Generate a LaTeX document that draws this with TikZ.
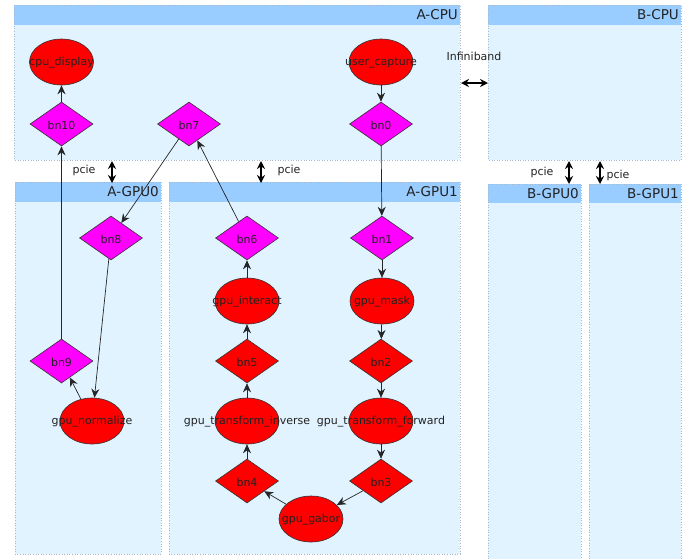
\documentclass[tikz,border=0pt]{standalone}
\usepackage{fontspec}
\setmainfont{DejaVu Sans}
\usetikzlibrary{shapes.geometric,arrows.meta}
\definecolor{boxfill}{HTML}{E1F3FF}
\definecolor{headfill}{HTML}{99CCFF}
\definecolor{boxline}{HTML}{A9B9CC}
\definecolor{mag}{HTML}{FF00FF}
\definecolor{txt}{HTML}{222222}
\tikzset{
  proc/.style={ellipse, draw=black!80, fill=red, minimum width=64pt, minimum height=46pt, inner sep=0pt, line width=0.6pt,
    label={[lbl, yshift=-1pt]center:#1}},
  gate/.style={diamond, draw=black!80, fill=mag, minimum width=63pt, minimum height=44pt, inner sep=0pt, line width=0.6pt,
    label={[lbl, yshift=-1pt]center:#1}},
  gatered/.style={gate=#1, fill=red},
  flow/.style={-{Stealth[length=9pt,width=8pt]}, line width=0.7pt, black!85},
  link/.style={{Stealth[length=8pt,width=8pt]}-{Stealth[length=8pt,width=8pt]}, line width=1.5pt, black},
  lbl/.style={font=\fontsize{11}{13}\selectfont, text=txt, inner sep=0pt},
  boxtitle/.style={font=\fontsize{13.5}{16}\selectfont, text=txt, anchor=east, inner sep=0pt},
  boxbody/.style={fill=boxfill},
  boxhead/.style={fill=headfill},
  boxedge/.style={draw=boxline, dotted, line width=0.6pt},
}
\newcommand\clusterbox[6]{%
  \fill[boxbody] (#1,#2) rectangle (#3,#4);
  \fill[boxhead] (#1,#2) rectangle (#3,#2+#5);
  \draw[boxedge] (#1,#2) rectangle (#3,#4);
  \node[boxtitle] at (#3-2,#2+#5/2) {#6};
}
\begin{document}
\begin{tikzpicture}[x=1pt,y=-1pt]
\useasboundingbox (0,0) rectangle (699,558);
\clip (0,0) rectangle (699,558);
\fill[white] (0,0) rectangle (699,558);

\clusterbox{14}{5}{460}{160}{20}{A-CPU}
\clusterbox{488}{5}{681}{160}{20}{B-CPU}
\clusterbox{15}{182}{161}{554}{20}{A-GPU0}
\clusterbox{169}{182}{460}{554}{20}{A-GPU1}
\clusterbox{488}{184}{581}{562}{19}{B-GPU0}
\clusterbox{589}{184}{681}{562}{19}{B-GPU1}

% nodes
\node[proc={cpu\_display}] (cpu_display) at (61.5,62) {};
\node[gate={bn10}] (bn10) at (61.5,124) {};
\node[gate={bn7}] (bn7) at (189,124) {};
\node[proc={user\_capture}] (user_capture) at (381,62) {};
\node[gate={bn0}] (bn0) at (381,124) {};

\node[gate={bn8}] (bn8) at (111,238) {};
\node[gate={bn9}] (bn9) at (61.5,361) {};
\node[proc={gpu\_normalize}] (gpu_normalize) at (92,421) {};

\node[gate={bn6}] (bn6) at (247,238) {};
\node[proc={gpu\_interact}] (gpu_interact) at (247,301) {};
\node[gatered={bn5}] (bn5) at (247,361) {};
\node[proc={gpu\_transform\_inverse}] (gpu_transform_inverse) at (247,421) {};
\node[gatered={bn4}] (bn4) at (247,481) {};
\node[proc={gpu\_gabor}] (gpu_gabor) at (311,519) {};

\node[gate={bn1}] (bn1) at (382,238) {};
\node[proc={gpu\_mask}] (gpu_mask) at (382,301) {};
\node[gatered={bn2}] (bn2) at (381,361) {};
\node[proc={gpu\_transform\_forward}] (gpu_transform_forward) at (381,421) {};
\node[gatered={bn3}] (bn3) at (381,481) {};

% flow edges
\draw[flow] (bn10) -- (cpu_display);
\draw[flow] (user_capture) -- (bn0);
\draw[flow] (bn0) -- (bn1);
\draw[flow] (bn1) -- (gpu_mask);
\draw[flow] (gpu_mask) -- (bn2);
\draw[flow] (bn2) -- (gpu_transform_forward);
\draw[flow] (gpu_transform_forward) -- (bn3);
\draw[flow] (bn3) -- (gpu_gabor);
\draw[flow] (gpu_gabor) -- (bn4);
\draw[flow] (bn4) -- (gpu_transform_inverse);
\draw[flow] (gpu_transform_inverse) -- (bn5);
\draw[flow] (bn5) -- (gpu_interact);
\draw[flow] (gpu_interact) -- (bn6);
\draw[flow] (bn6) -- (bn7);
\draw[flow] (bn7) -- (bn8);
\draw[flow] (bn8) -- (gpu_normalize);
\draw[flow] (gpu_normalize) -- (bn9);
\draw[flow] (bn9) -- (bn10);

% interconnects
\coordinate (p1a) at (112,161); \coordinate (p1b) at (112,183);
\coordinate (p2a) at (261,161); \coordinate (p2b) at (261,183);
\coordinate (iba) at (461,83);  \coordinate (ibb) at (488,83);
\coordinate (p3a) at (569,161); \coordinate (p3b) at (569,184);
\coordinate (p4a) at (600,161); \coordinate (p4b) at (600,184);
\draw[link] (p1a) -- (p1b);
\draw[link] (p2a) -- (p2b);
\draw[link] (iba) -- (ibb);
\draw[link] (p3a) -- (p3b);
\draw[link] (p4a) -- (p4b);
\node[lbl] (l1) at (84,170) {pcie};
\node[lbl] (l2) at (289,170) {pcie};
\node[lbl] (l3) at (474,56) {Infiniband};
\node[lbl] (l4) at (542,172) {pcie};
\node[lbl] (l5) at (618,175) {pcie};
\end{tikzpicture}
\end{document}
